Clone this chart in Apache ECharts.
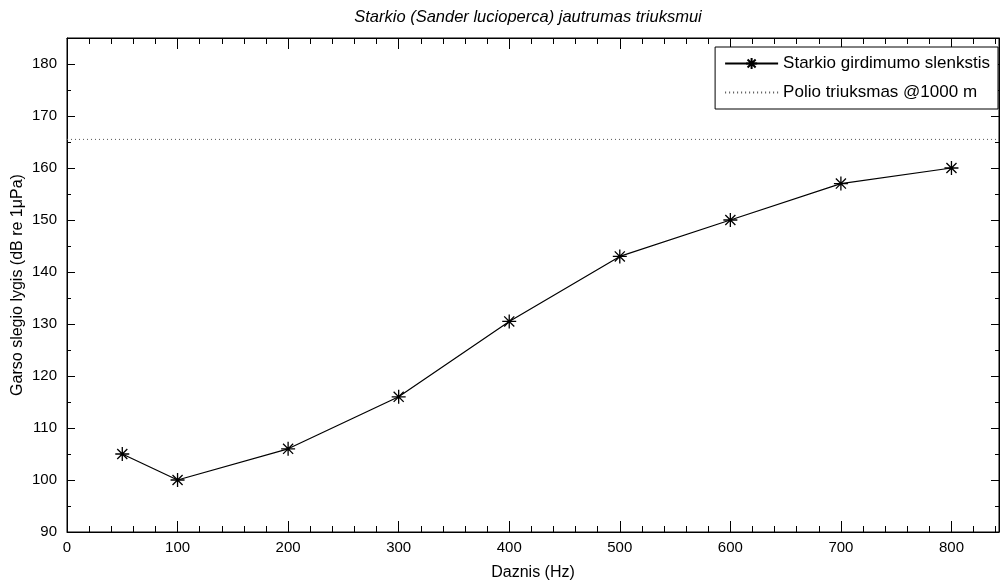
<!DOCTYPE html>
<html>
<head>
<meta charset="utf-8">
<script src="https://cdn.jsdelivr.net/npm/echarts@6/dist/echarts.min.js"></script>
<style>
  html, body { margin: 0; padding: 0; background: #fff; }
  #chart { width: 1000px; height: 582px; }
</style>
</head>
<body>
<div id="chart"></div>
<script>
  // dažniai (Hz) ir girdimumo slenkstis (dB re 1 µPa)
  const freqs = [50, 100, 200, 300, 400, 500, 600, 700, 800];
  const threshold = [105, 100, 106, 116, 130.5, 143, 150, 157, 160];
  // polio triukšmas @1000 m
  const noiseX = [0, 843];
  const noiseLevel = [165.5, 165.5];

  const font = 'Liberation Sans';
  const star = 'path://M0 -1L0 1M-1 0L1 0M-0.72 -0.72L0.72 0.72M-0.72 0.72L0.72 -0.72';

  let myChart = echarts.init(document.getElementById('chart'));
  let axisCommon = {
    axisLine: { show: true, onZero: false, lineStyle: { color: '#000', width: 1 } },
    splitLine: { show: false },
    axisLabel: { color: '#000', fontFamily: font, fontSize: 15 }
  };

  let option = {
    animation: false,
    backgroundColor: '#fff',
    title: {
      text: 'Starkio (Sander lucioperca) jautrumas triuksmui',
      left: 523, top: 4, textAlign: 'center',
      textStyle: { fontFamily: font, fontSize: 16.5, fontStyle: 'italic', fontWeight: 'normal', color: '#000' }
    },
    legend: {
      orient: 'vertical', right: 2, top: 47,
      backgroundColor: '#fff', borderColor: '#000', borderWidth: 1,
      padding: [8, 8, 8, 9], itemGap: 12, itemWidth: 53, itemHeight: 14,
      textStyle: { fontFamily: font, fontSize: 17, color: '#000' },
      data: ['Starkio girdimumo slenkstis', 'Polio triuksmas @1000 m']
    },
    grid: {
      left: 67, right: 1, top: 38, bottom: 50, outerBoundsMode: 'none', containLabel: false,
      show: true, borderColor: '#000', borderWidth: 1
    },
    xAxis: [
      Object.assign({}, axisCommon, {
        type: 'value', min: 0, max: 843, interval: 100,
        position: 'bottom',
        axisTick: { show: true, inside: true, length: 11, lineStyle: { color: '#000' } },
        minorTick: { show: true, splitNumber: 5, length: 6, lineStyle: { color: '#000' } },
        axisLabel: { color: '#000', fontFamily: font, fontSize: 15, margin: 8, showMaxLabel: false },
        name: 'Daznis (Hz)', nameLocation: 'middle', nameGap: 33,
        nameTextStyle: { fontFamily: font, fontSize: 16, color: '#000' }
      }),
      Object.assign({}, axisCommon, {
        type: 'value', min: 0, max: 843, interval: 100,
        position: 'top',
        axisTick: { show: true, inside: true, length: 11, lineStyle: { color: '#000' } },
        minorTick: { show: true, splitNumber: 5, length: 6, lineStyle: { color: '#000' } },
        axisLabel: { show: false }
      })
    ],
    yAxis: [
      Object.assign({}, axisCommon, {
        type: 'value', min: 90, max: 185, interval: 10,
        position: 'left',
        axisTick: { show: true, inside: true, length: 8, lineStyle: { color: '#000' } },
        minorTick: { show: true, splitNumber: 2, length: 4, lineStyle: { color: '#000' } },
        axisLabel: { color: '#000', fontFamily: font, fontSize: 15, margin: 10, showMaxLabel: false },
        name: 'Garso slegio lygis (dB re 1\u03BCPa)', nameLocation: 'middle', nameGap: 41,
        nameMoveOverlap: false,
        nameTextStyle: { fontFamily: font, fontSize: 16, color: '#000' }
      }),
      Object.assign({}, axisCommon, {
        type: 'value', min: 90, max: 185, interval: 10,
        position: 'right',
        axisTick: { show: true, inside: true, length: 8, lineStyle: { color: '#000' } },
        minorTick: { show: true, splitNumber: 2, length: 4, lineStyle: { color: '#000' } },
        axisLabel: { show: false }
      })
    ],
    series: [
      {
        name: 'Starkio girdimumo slenkstis',
        type: 'line',
        data: freqs.map((f, i) => [f, threshold[i]]),
        symbol: star, symbolSize: 14,
        itemStyle: { color: 'none', borderColor: '#000', borderWidth: 1.3 },
        lineStyle: { color: '#000', width: 1.2 }
      },
      {
        name: 'Polio triuksmas @1000 m',
        type: 'line',
        data: noiseX.map((x, i) => [x, noiseLevel[i]]),
        symbol: 'none',
        itemStyle: { color: 'transparent', borderColor: 'transparent', borderWidth: 0 },
        lineStyle: { color: '#555', width: 1, type: [1, 3] }
      }
    ]
  };

  myChart.setOption(option);
</script>
</body>
</html>
